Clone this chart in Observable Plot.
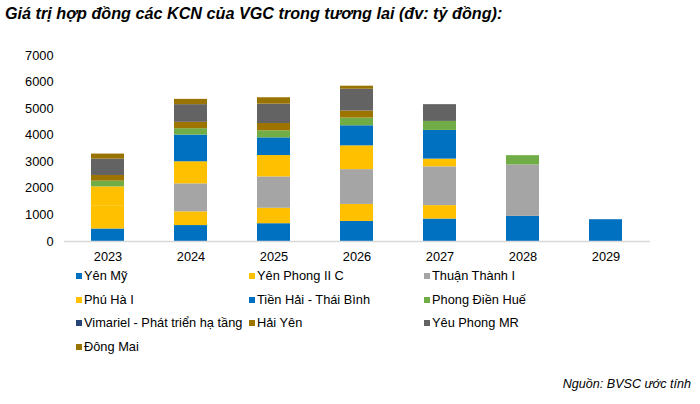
<!DOCTYPE html>
<html><head><meta charset="utf-8">
<script src="https://cdn.jsdelivr.net/npm/d3@7"></script>
<script src="https://cdn.jsdelivr.net/npm/@observablehq/plot@0.6"></script>
<style>
body{margin:0;background:#fff;font-family:"Liberation Sans",Arial,sans-serif;}
#wrap{position:relative;width:700px;height:404px;overflow:hidden;}
#title{position:absolute;left:5px;top:4px;font-size:16.2px;font-weight:bold;font-style:italic;color:#000;white-space:nowrap;}
#chart{position:absolute;left:0;top:30px;}
#legend{position:absolute;left:0;top:0;}
.li{position:absolute;font-size:12.8px;color:#000;white-space:nowrap;line-height:14px;}
.sw{display:inline-block;width:6px;height:6px;margin-right:2px;vertical-align:1px;}
#cap{position:absolute;right:9px;top:377px;font-size:12.6px;font-style:italic;color:#000;}
</style></head>
<body><div id="wrap">
<div id="title">Giá trị hợp đồng các KCN của VGC trong tương lai (đv: tỷ đồng):</div>
<div id="chart"></div>
<div id="legend"></div>
<div id="cap">Nguồn: BVSC ước tính</div>
</div>
<script>
const years = ["2023","2024","2025","2026","2027","2028","2029"];
const seriesNames = ["Yên Mỹ","Yên Phong II C","Thuận Thành I","Phú Hà I","Tiền Hải - Thái Bình","Phong Điền Huế","Vimariel - Phát triển hạ tầng","Hải Yên","Yêu Phong MR","Đông Mai"];
const colors = ["#0070C0","#FFC000","#A5A5A5","#FFC000","#0070C0","#70AD47","#264478","#9E7400","#636363","#997300"];
const yenMy        = [470, 600, 670, 755, 845, 945, 820];
const yenPhongIIC  = [855, 515, 580, 640, 505, 0, 0];
const thuanThanh   = [0, 1055, 1180, 1310, 1460, 1935, 0];
const phuHa        = [730, 830, 805, 895, 290, 0, 0];
const tienHai      = [0, 1005, 665, 755, 1080, 0, 0];
const phongDien    = [215, 240, 265, 290, 340, 350, 0];
const vimariel     = [0, 0, 0, 0, 0, 0, 0];
const haiYen       = [215, 240, 275, 265, 0, 0, 0];
const yeuPhongMR   = [615, 665, 730, 820, 630, 0, 0];
const dongMai      = [190, 200, 240, 115, 0, 0, 0];
const yTicks = [0,1000,2000,3000,4000,5000,6000,7000];

const seriesValues = [yenMy,yenPhongIIC,thuanThanh,phuHa,tienHai,phongDien,vimariel,haiYen,yeuPhongMR,dongMai];
const data = [];
years.forEach((yr,i)=>{
  seriesNames.forEach((s,j)=>{
    data.push({year:yr, series:s, value:seriesValues[j][i]});
  });
});

const chart = Plot.plot({
  width:700, height:240,
  marginLeft:64, marginRight:50, marginTop:25, marginBottom:29,
  style:{fontFamily:'"Liberation Sans",Arial,sans-serif', fontSize:"12.8px", color:"#000", background:"transparent"},
  x:{domain:years, paddingInner:0.6, paddingOuter:0.3, label:null},
  y:{domain:[0,7000], ticks:yTicks, label:null},
  color:{domain:seriesNames, range:colors},
  marks:[
    Plot.barY(data, Plot.stackY({x:"year", y:"value", fill:"series", order:null})),
    Plot.ruleY([0], {stroke:"#d9d9d9", strokeWidth:1.5}),
    Plot.axisX({tickSize:0, tickPadding:10, fontSize:12.8, label:null}),
    Plot.axisY({ticks:yTicks, tickSize:0, tickPadding:11, fontSize:12.8, label:null, tickFormat:d=>String(d)})
  ]
});
document.getElementById("chart").appendChild(chart);

const colX = [76, 249, 424];
const rowY = [269, 293, 316, 340];
const leg = document.getElementById("legend");
seriesNames.forEach((s,i)=>{
  const d = document.createElement("div");
  d.className = "li";
  d.style.left = colX[i%3] + "px";
  d.style.top = rowY[Math.floor(i/3)] + "px";
  d.innerHTML = `<span class="sw" style="background:${colors[i]}"></span>${s}`;
  leg.appendChild(d);
});
</script>
</body></html>
